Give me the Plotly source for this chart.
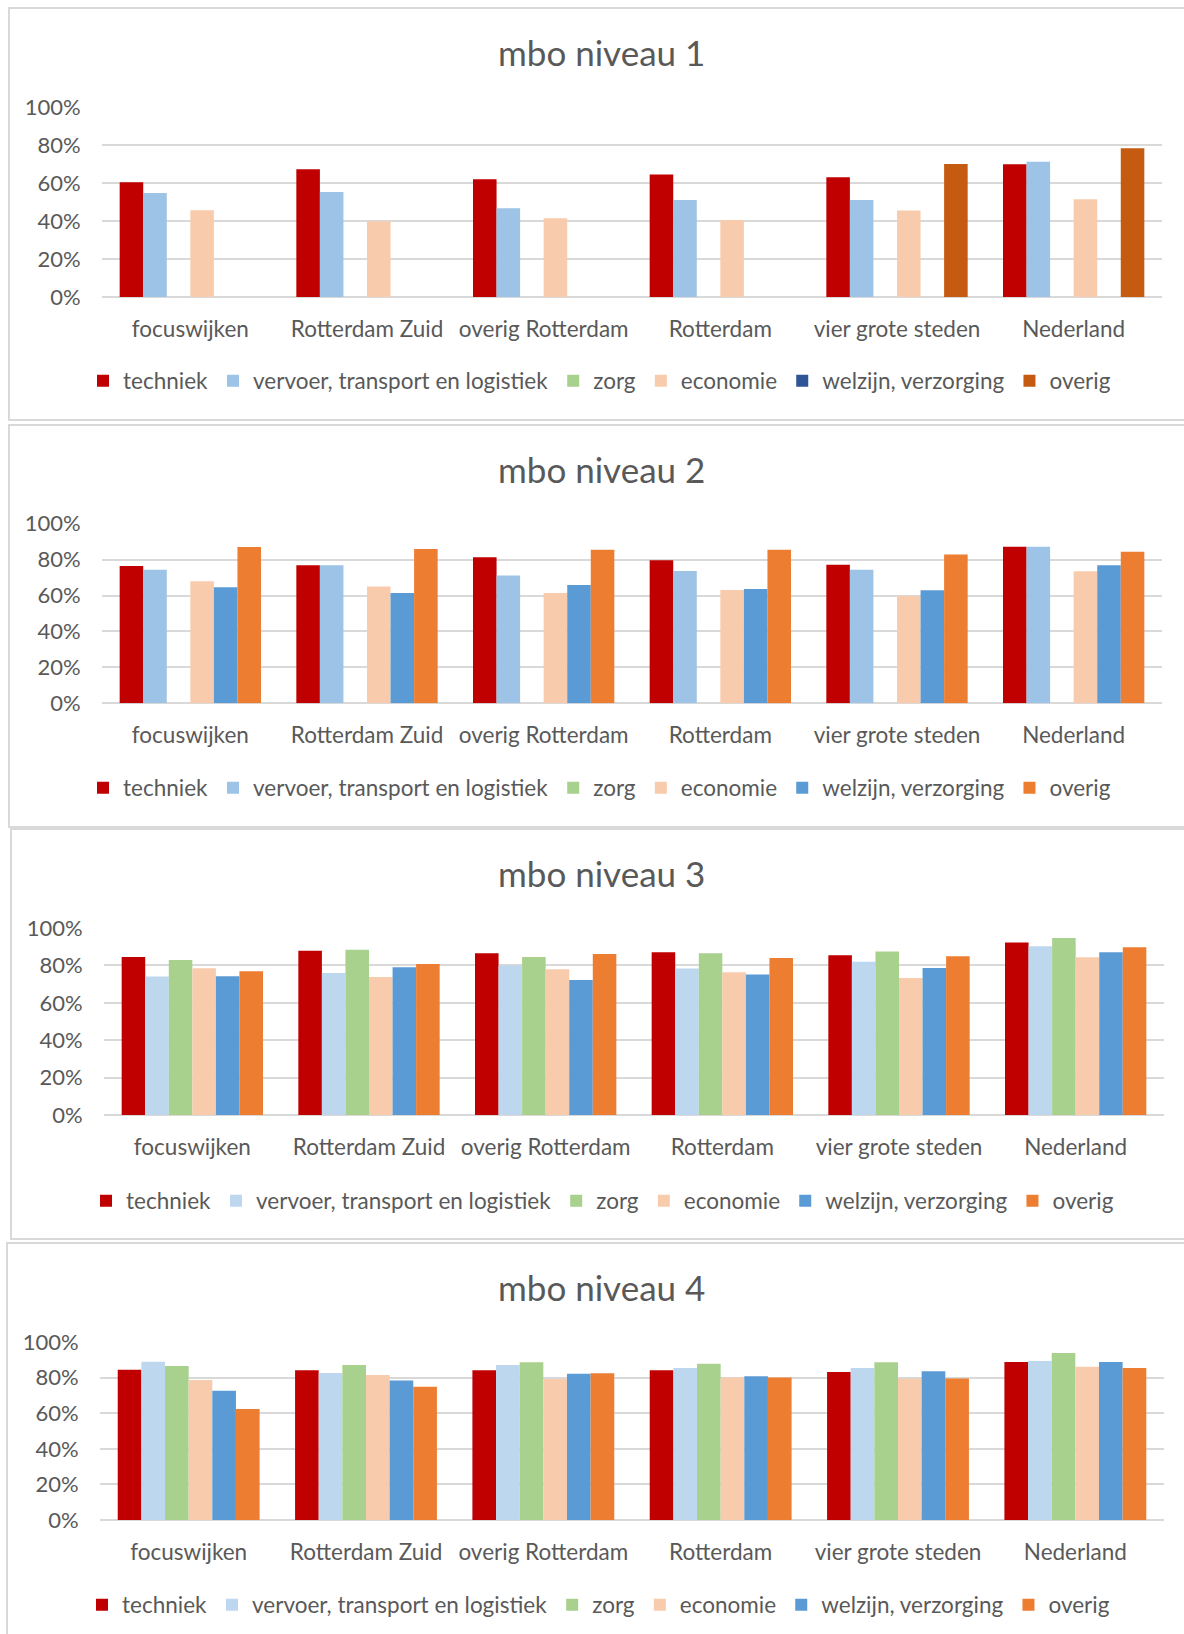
import plotly.graph_objects as go

W, H = 1184, 1634

categories = ["focuswijken", "Rotterdam Zuid", "overig Rotterdam", "Rotterdam",
              "vier grote steden", "Nederland"]
series_names = ["techniek", "vervoer, transport en logistiek", "zorg", "economie",
                "welzijn, verzorging", "overig"]
panel_titles = ["mbo niveau 1", "mbo niveau 2", "mbo niveau 3", "mbo niveau 4"]
y_ticks = [0, 0.2, 0.4, 0.6, 0.8, 1.0]
y_tick_labels = ["0%", "20%", "40%", "60%", "80%", "100%"]

# niveau 1
n1_techniek = [0.604, 0.672, 0.620, 0.645, 0.630, 0.699]
n1_vervoer = [0.548, 0.552, 0.467, 0.510, 0.511, 0.712]
n1_zorg = [None, None, None, None, None, None]
n1_economie = [0.456, 0.399, 0.414, 0.405, 0.455, 0.514]
n1_welzijn = [None, None, None, None, None, None]
n1_overig = [None, None, None, None, 0.700, 0.783]

# niveau 2
n2_techniek = [0.764, 0.768, 0.813, 0.796, 0.772, 0.872]
n2_vervoer = [0.744, 0.768, 0.711, 0.737, 0.744, 0.872]
n2_zorg = [None, None, None, None, None, None]
n2_economie = [0.679, 0.651, 0.614, 0.631, 0.597, 0.735]
n2_welzijn = [0.646, 0.614, 0.659, 0.636, 0.629, 0.768]
n2_overig = [0.870, 0.859, 0.855, 0.855, 0.829, 0.844]

# niveau 3
n3_techniek = [0.845, 0.879, 0.865, 0.870, 0.854, 0.923]
n3_vervoer = [0.740, 0.760, 0.799, 0.783, 0.819, 0.902]
n3_zorg = [0.829, 0.884, 0.845, 0.865, 0.874, 0.947]
n3_economie = [0.785, 0.738, 0.779, 0.763, 0.733, 0.843]
n3_welzijn = [0.742, 0.790, 0.722, 0.751, 0.786, 0.870]
n3_overig = [0.769, 0.808, 0.861, 0.840, 0.849, 0.897]

# niveau 4
n4_techniek = [0.844, 0.841, 0.841, 0.841, 0.831, 0.887]
n4_vervoer = [0.889, 0.826, 0.871, 0.854, 0.854, 0.893]
n4_zorg = [0.865, 0.871, 0.886, 0.878, 0.886, 0.938]
n4_economie = [0.786, 0.814, 0.792, 0.801, 0.794, 0.861]
n4_welzijn = [0.726, 0.784, 0.822, 0.807, 0.835, 0.887]
n4_overig = [0.623, 0.749, 0.824, 0.801, 0.795, 0.854]

panels_data = [
    [n1_techniek, n1_vervoer, n1_zorg, n1_economie, n1_welzijn, n1_overig],
    [n2_techniek, n2_vervoer, n2_zorg, n2_economie, n2_welzijn, n2_overig],
    [n3_techniek, n3_vervoer, n3_zorg, n3_economie, n3_welzijn, n3_overig],
    [n4_techniek, n4_vervoer, n4_zorg, n4_economie, n4_welzijn, n4_overig],
]

colors_p1 = ["#C00000", "#9DC3E6", "#A9D18E", "#F8CBAD", "#2F5597", "#C55A11"]
colors_p2 = ["#C00000", "#9DC3E6", "#A9D18E", "#F8CBAD", "#5B9BD5", "#ED7D31"]
colors_p34 = ["#C00000", "#BDD7EE", "#A9D18E", "#F8CBAD", "#5B9BD5", "#ED7D31"]
panel_colors = [colors_p1, colors_p2, colors_p34, colors_p34]

# layout geometry (pixels)
plot_x = [(102, 1162), (102, 1162), (104, 1164), (100, 1164)]
plot_y = [(107, 297), (523.7, 703.3), (928, 1115), (1342, 1520)]
title_y = [52, 469, 873, 1287]
legend_y = [381, 788, 1201, 1605]
legend_x = [97, 97, 100, 96]
frames = [(9, 8, 1200, 420), (9, 425, 1200, 827), (11, 829, 1200, 1239), (7, 1243, 1200, 1660)]

FONT = "Lato"
TXT = "#595959"
GRID = "#D9D9D9"

fig = go.Figure()
layout = dict(
    width=W, height=H, margin=dict(l=0, r=0, t=0, b=0, autoexpand=False),
    paper_bgcolor="white", plot_bgcolor="white",
    barmode="group", bargap=0.2, bargroupgap=0.0,
    font=dict(family=FONT, color=TXT, size=22),
    shapes=[], annotations=[],
)

for p in range(4):
    suffix = "" if p == 0 else str(p + 1)
    xa, ya = "x" + suffix, "y" + suffix
    leg = "legend" + suffix
    for s in range(6):
        fig.add_trace(go.Bar(
            x=categories, y=panels_data[p][s], name=series_names[s],
            marker=dict(color=panel_colors[p][s], line=dict(width=0)),
            xaxis=xa, yaxis=ya, legend=leg, showlegend=True,
        ))
    x0, x1 = plot_x[p]
    y0, y1 = plot_y[p]
    layout["xaxis" + suffix] = dict(
        domain=[x0 / W, x1 / W], anchor=ya,
        showgrid=False, showline=False, zeroline=False,
        ticks="outside", ticklen=12, tickcolor="rgba(0,0,0,0)",
        tickfont=dict(family=FONT, size=22.5, color=TXT), fixedrange=True,
    )
    layout["yaxis" + suffix] = dict(
        domain=[1 - y1 / H, 1 - y0 / H], anchor=xa,
        range=[0, 1], tickvals=y_ticks, ticktext=y_tick_labels,
        showgrid=True, gridcolor=GRID, gridwidth=2,
        zeroline=True, zerolinecolor=GRID, zerolinewidth=2,
        showline=False, ticks="outside", ticklen=16, tickcolor="rgba(0,0,0,0)",
        tickfont=dict(family=FONT, size=22, color=TXT), fixedrange=True,
    )
    layout[leg] = dict(
        orientation="h", x=(legend_x[p] - 14) / W, xanchor="left",
        y=1 - legend_y[p] / H, yanchor="middle",
        font=dict(family=FONT, size=22.5, color=TXT),
        itemwidth=30, tracegroupgap=0, bgcolor="rgba(0,0,0,0)",
        traceorder="normal",
    )
    fx0, fy0, fx1, fy1 = frames[p]
    layout["shapes"].append(dict(
        type="rect", xref="paper", yref="paper",
        x0=fx0 / W, x1=fx1 / W, y0=1 - fy1 / H, y1=1 - fy0 / H,
        line=dict(color=GRID, width=2), fillcolor="rgba(0,0,0,0)", layer="below",
    ))
    layout["annotations"].append(dict(
        text=panel_titles[p], xref="paper", yref="paper",
        x=601 / W, y=1 - title_y[p] / H, xanchor="center", yanchor="middle",
        showarrow=False, font=dict(family=FONT, size=35, color=TXT),
    ))

fig.update_layout(**layout)
fig.write_html("out.html", config={"displayModeBar": False},
               post_script="document.body.style.margin='0';document.body.style.padding='0';")
